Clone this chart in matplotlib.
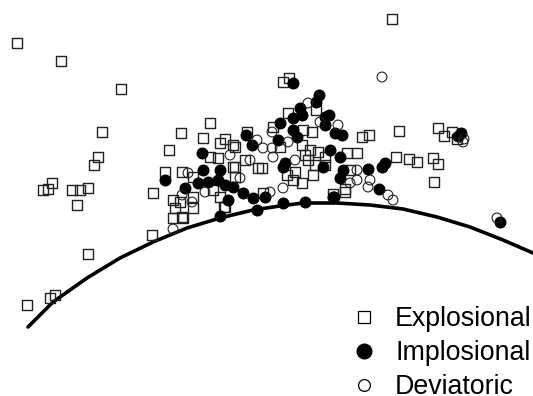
import matplotlib
matplotlib.use("Agg")
import matplotlib.pyplot as plt
from matplotlib.lines import Line2D

plt.rcParams['font.family'] = ['Liberation Sans', 'DejaVu Sans']

# explosional events (open squares)
expl_x = [17, 61, 121, 102, 98, 94, 52, 43, 48, 72, 80, 88, 77, 88, 27, 50, 55,
          152, 153, 169, 181, 210, 203, 392, 283, 289, 362, 369, 399, 438, 444,
          452, 457, 396, 409, 417, 433, 438, 434, 345, 333, 357, 347, 350, 325,
          288, 273, 303, 312, 247, 233, 280, 302, 310, 305, 308, 318, 325, 245,
          258, 262, 287, 295, 293, 302, 313, 315, 235, 235, 263, 220, 225, 235,
          210, 218, 233, 165, 182, 193, 213, 220, 173, 175, 193, 182, 225, 180,
          173, 183, 193, 224, 345, 316]
expl_y = [43, 61, 89, 132, 157, 165, 183, 190, 189, 190, 190, 188, 205, 254, 305,
          298, 295, 235, 193, 150, 133, 123, 138, 19, 82, 78, 137, 135, 131, 128,
          136, 132, 139, 157, 159, 162, 158, 164, 182, 189, 194, 153, 153, 170,
          165, 113, 127, 130, 132, 132, 145, 147, 145, 150, 155, 160, 152, 157,
          160, 168, 168, 175, 172, 180, 183, 175, 165, 167, 177, 193, 143, 139,
          147, 157, 158, 167, 172, 172, 177, 190, 197, 200, 208, 208, 217, 207,
          202, 218, 218, 197, 207, 192, 110]

# implosional events (filled circles)
impl_x = [293, 319, 316, 300, 302, 293, 280, 293, 297, 325, 278, 246, 252, 323,
          283, 285, 233, 243, 265, 253, 283, 305, 202, 203, 220, 165, 185, 198,
          208, 218, 225, 228, 220, 257, 334, 329, 325, 335, 342, 330, 340, 343,
          340, 385, 382, 368, 379, 333, 458, 461, 500]
impl_y = [83, 95, 102, 108, 115, 118, 123, 130, 137, 117, 140, 135, 145, 167,
          167, 163, 187, 193, 197, 198, 203, 202, 153, 170, 170, 180, 188, 183,
          182, 180, 185, 200, 216, 210, 197, 115, 125, 133, 135, 150, 157, 170,
          178, 163, 167, 169, 189, 197, 136, 133, 222]

# deviatoric events (open circles)
dev_x = [382, 464, 463, 497, 308, 272, 320, 257, 263, 272, 288, 250, 273, 283,
         270, 338, 357, 357, 370, 368, 388, 393, 205, 182, 192, 173, 188, 230,
         240, 295, 350]
dev_y = [77, 139, 142, 218, 103, 132, 122, 140, 148, 148, 142, 160, 157, 188,
         192, 125, 170, 180, 180, 187, 195, 200, 192, 195, 202, 229, 173, 155,
         178, 160, 183]

# boundary curve
curve_x = [28, 53, 87, 120, 153, 187, 220, 253, 280, 303, 337, 370, 403, 437,
           470, 503, 533]
curve_y = [327, 302, 278, 258, 242, 228, 218, 210, 206, 203, 203, 205, 209, 217,
           227, 240, 253]

labels = ["Explosional", "Implosional", "Deviatoric"]

fig = plt.figure(figsize=(5.33, 3.96), dpi=100)
ax = fig.add_axes([0, 0, 1, 1])

ax.plot(curve_x, curve_y, color='black', lw=2.6, solid_capstyle='round',
        solid_joinstyle='round', zorder=1)
ax.scatter(expl_x, expl_y, marker='s', s=55, facecolors='none',
           edgecolors='#222222', linewidths=1.0, zorder=2)
ax.scatter(impl_x, impl_y, marker='o', s=58, color='black', zorder=3)
ax.scatter(dev_x, dev_y, marker='o', s=50, facecolors='none',
           edgecolors='#222222', linewidths=0.8, zorder=4)

ax.set_xlim(0, 533)
ax.set_ylim(396, 0)
ax.axis('off')

handles = [
    Line2D([], [], ls='none', marker='s', ms=9, mfc='none', mec='black', mew=0.9),
    Line2D([], [], ls='none', marker='o', ms=10.5, mfc='black', mec='black'),
    Line2D([], [], ls='none', marker='o', ms=8.5, mfc='none', mec='black', mew=0.9),
]
ax.legend(handles, labels, loc='lower right', bbox_to_anchor=(1.033, -0.058),
          frameon=False, fontsize=19.3, labelspacing=0.3, handletextpad=0.56,
          handlelength=1.2, borderpad=0.2)

fig.savefig("out.png", dpi=100)
